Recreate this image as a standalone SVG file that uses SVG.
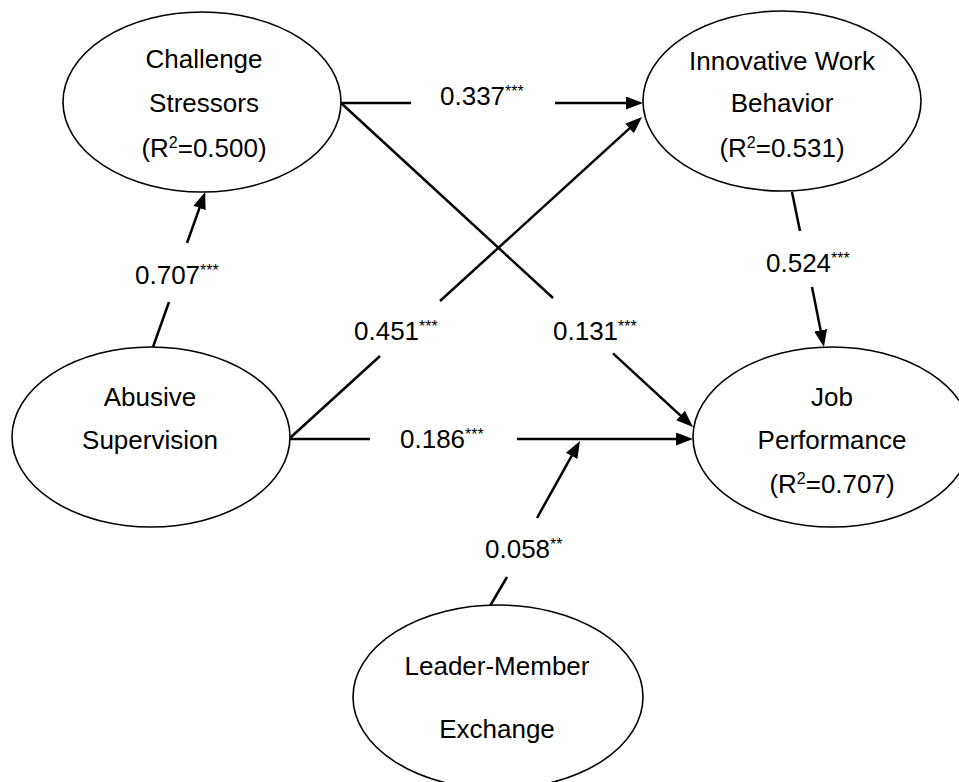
<svg xmlns="http://www.w3.org/2000/svg" width="959" height="782" viewBox="0 0 959 782">
<style>
.node ellipse{fill:#fff;stroke:#000;stroke-width:1.6}
text{font-family:"Liberation Sans",Arial,sans-serif;fill:#000}
.nt{font-size:26px;text-anchor:middle}
.lb{font-size:26px}
.sup{font-size:16px}
.st{font-size:16px}
.conn line{stroke:#000;stroke-width:2.5;fill:none}
</style>
<defs>
<marker id="ah" markerUnits="userSpaceOnUse" markerWidth="18" markerHeight="14" refX="6" refY="6.5" orient="auto">
<path d="M0,0 L17,6.5 L0,13 z" fill="#000"/>
</marker>
</defs>
<rect width="959" height="782" fill="#fff"/>
<g class="conn" id="connectors">
<line x1="341" y1="103" x2="411" y2="103"/>
<line x1="555" y1="103" x2="632" y2="103" marker-end="url(#ah)"/>
<line x1="341" y1="103" x2="553" y2="298"/>
<line x1="613" y1="353.4" x2="684.9" y2="419.6" marker-end="url(#ah)"/>
<line x1="290" y1="438" x2="380" y2="356"/>
<line x1="440" y1="301" x2="633.9" y2="124.4" marker-end="url(#ah)"/>
<line x1="290" y1="439" x2="370" y2="439"/>
<line x1="517" y1="439" x2="682" y2="439" marker-end="url(#ah)"/>
<line x1="490" y1="606" x2="507" y2="577"/>
<line x1="537" y1="518" x2="574.6" y2="450.6" marker-end="url(#ah)"/>
<line x1="153" y1="347" x2="169" y2="302"/>
<line x1="187" y1="243" x2="201.5" y2="202.4" marker-end="url(#ah)"/>
<line x1="792" y1="192" x2="800" y2="231"/>
<line x1="812" y1="287" x2="821.8" y2="336.2" marker-end="url(#ah)"/>
<text class="lb" x="440" y="105">0.337<tspan class="st" dy="-8">***</tspan></text>
<text class="lb" x="135" y="284">0.707<tspan class="st" dy="-8">***</tspan></text>
<text class="lb" x="766" y="272">0.524<tspan class="st" dy="-8">***</tspan></text>
<text class="lb" x="354" y="340">0.451<tspan class="st" dy="-8">***</tspan></text>
<text class="lb" x="553" y="340">0.131<tspan class="st" dy="-8">***</tspan></text>
<text class="lb" x="400" y="448">0.186<tspan class="st" dy="-8">***</tspan></text>
<text class="lb" x="485" y="558">0.058<tspan class="st" dy="-8">**</tspan></text>
</g>
<g class="node" id="challenge-stressors">
<ellipse cx="202" cy="102" rx="139" ry="90"/>
<text class="nt" x="204" y="68">Challenge</text>
<text class="nt" x="204" y="112">Stressors</text>
<text class="nt" x="204" y="157">(R<tspan class="sup" dy="-9">2</tspan><tspan dy="9">=0.500)</tspan></text>
</g>
<g class="node" id="innovative-work-behavior">
<ellipse cx="782" cy="101" rx="139" ry="90"/>
<text class="nt" x="782" y="70">Innovative Work</text>
<text class="nt" x="782" y="112">Behavior</text>
<text class="nt" x="782" y="157">(R<tspan class="sup" dy="-9">2</tspan><tspan dy="9">=0.531)</tspan></text>
</g>
<g class="node" id="abusive-supervision">
<ellipse cx="151" cy="437" rx="139" ry="90"/>
<text class="nt" x="150" y="406">Abusive</text>
<text class="nt" x="150" y="449">Supervision</text>
</g>
<g class="node" id="job-performance">
<ellipse cx="832" cy="437" rx="139" ry="90"/>
<text class="nt" x="832" y="406">Job</text>
<text class="nt" x="832" y="449">Performance</text>
<text class="nt" x="832" y="493">(R<tspan class="sup" dy="-9">2</tspan><tspan dy="9">=0.707)</tspan></text>
</g>
<g class="node" id="leader-member-exchange">
<ellipse cx="498" cy="697" rx="145" ry="92"/>
<text class="nt" x="497" y="675">Leader-Member</text>
<text class="nt" x="497" y="738">Exchange</text>
</g>
</svg>
